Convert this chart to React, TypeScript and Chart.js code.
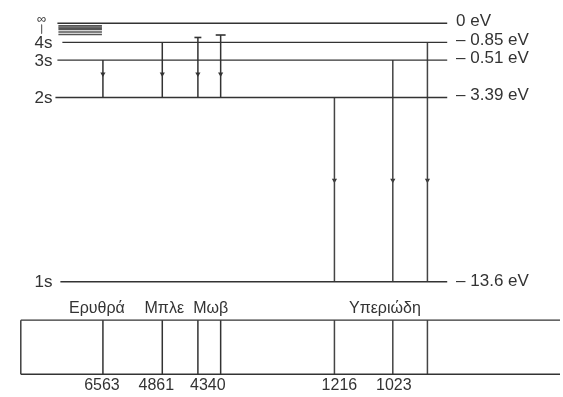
import React, { useEffect, useRef } from 'react';
import { Chart, registerables } from 'chart.js';

Chart.register(...registerables);

// ---- Energy levels (schematic depth below the ionisation limit) ----
const levelNames = ['∞', '4s', '3s', '2s', '1s'];
const levelEnergyLabels = ['0 eV', '– 0.85 eV', '– 0.51 eV', '– 3.39 eV', '– 13.6 eV'];
const levelDepth = [20.5, 40, 58, 96, 283];
const levelStart = [55, 60, 55, 53, 58];
const upperStateNames = ['5s', '6s'];
const upperStateDepth = [35, 32.5];
const denseLevelDepth = [23, 24.3, 25.6, 27, 29.5, 32];

// ---- Transitions (position along the spectrum strip) ----
const transitionFrom = ['3s', '4s', '5s', '6s', '2s', '3s', '4s'];
const transitionTo = ['2s', '2s', '2s', '2s', '1s', '1s', '1s'];
const transitionPos = [101, 161, 197, 220, 335, 394, 429];

// ---- Spectrum labels ----
const wavelengthLabels = ['6563', '4861', '4340', '1216', '1023'];
const wavelengthLabelPos = [100, 155, 207, 340, 395];
const bandNames = ['Ερυθρά', 'Μπλε', 'Μωβ', 'Υπεριώδη'];
const bandLabelPos = [95, 163, 210, 386];

const L = {
  W: 563,
  H: 397,
  levelEnd: 449,
  energyLabelX: 458,
  levelLabelX: 50,
  infX: 39,
  denseStart: 56,
  denseEnd: 100,
  balmerArrow: 72,
  lymanArrow: 180,
  boxLeft: 18,
  boxTop: 322,
  boxBottom: 377,
  boxRight: 563,
  bandLabelY: 310,
  wavelengthY: 388,
};

const INK = '#333333';
const FONT = '"Liberation Sans", Arial, Helvetica, sans-serif';

function depthOf(name: string): number {
  const i = levelNames.indexOf(name);
  if (i >= 0) return levelDepth[i];
  const j = upperStateNames.indexOf(name);
  return upperStateDepth[j];
}

function seg(x1: number, y1: number, x2: number, y2: number, color = INK, width = 1.4) {
  return {
    data: [
      { x: x1, y: y1 },
      { x: x2, y: y2 },
    ],
    showLine: true,
    borderColor: color,
    borderWidth: width,
    pointRadius: 0,
    pointHoverRadius: 0,
    clip: false as any,
    fill: false,
  };
}

function buildDatasets() {
  const ds: any[] = [];
  levelNames.forEach((_, i) => {
    ds.push(seg(levelStart[i], levelDepth[i], L.levelEnd, levelDepth[i], INK, 1.4));
  });
  denseLevelDepth.forEach((d) => {
    ds.push(seg(L.denseStart, d, L.denseEnd, d, '#555555', 1.4));
  });
  ds.push(seg(L.infX, 22, L.infX, 31, '#666666', 1));
  transitionFrom.forEach((from, i) => {
    const x = transitionPos[i];
    const y1 = depthOf(from);
    const y2 = depthOf(transitionTo[i]);
    const lyman = transitionTo[i] === '1s';
    ds.push(seg(x, y1, x, y2, lyman ? '#444444' : INK, 1.5));
    if (upperStateNames.includes(from)) {
      const half = from === '6s' ? 5 : 3.5;
      ds.push(seg(x - half, y1, x + half, y1, INK, 1.6));
    }
  });
  ds.push({
    data: transitionFrom.map((_, i) => ({
      x: transitionPos[i],
      y: transitionTo[i] === '1s' ? L.lymanArrow : L.balmerArrow,
    })),
    showLine: false,
    pointStyle: 'triangle',
    rotation: 180,
    pointRadius: 3,
    pointHoverRadius: 3,
    backgroundColor: INK,
    borderColor: INK,
    borderWidth: 0,
    clip: false,
  });
  ds.push(seg(L.boxLeft, L.boxTop, L.boxRight, L.boxTop, INK, 1.4));
  ds.push(seg(L.boxLeft, L.boxBottom, L.boxRight, L.boxBottom, INK, 1.4));
  ds.push(seg(L.boxLeft, L.boxTop, L.boxLeft, L.boxBottom, INK, 1.4));
  transitionPos.forEach((x, i) => {
    const lyman = transitionTo[i] === '1s';
    ds.push(seg(x, L.boxTop, x, L.boxBottom, lyman ? '#444444' : INK, 1.5));
  });
  return ds;
}

const textPlugin = {
  id: 'diagramText',
  afterDatasetsDraw(chart: any) {
    const { ctx, scales } = chart;
    const px = (v: number) => scales.x.getPixelForValue(v);
    const py = (v: number) => scales.y.getPixelForValue(v);
    ctx.save();
    ctx.fillStyle = INK;
    ctx.textBaseline = 'middle';
    ctx.font = `17px ${FONT}`;
    ctx.textAlign = 'right';
    levelNames.forEach((n, i) => {
      if (n === '∞') return;
      ctx.fillText(n, px(L.levelLabelX), py(levelDepth[i] + 1));
    });
    ctx.textAlign = 'center';
    ctx.font = `13px ${FONT}`;
    ctx.fillText('∞', px(L.infX), py(16.5));
    ctx.font = `17px ${FONT}`;
    ctx.textAlign = 'left';
    levelEnergyLabels.forEach((t, i) => {
      const off = i === levelEnergyLabels.length - 1 ? 0 : -2;
      ctx.fillText(t, px(L.energyLabelX), py(levelDepth[i] + off));
    });
    ctx.font = `16px ${FONT}`;
    ctx.textAlign = 'center';
    bandNames.forEach((t, i) => {
      ctx.fillText(t, px(bandLabelPos[i]), py(L.bandLabelY));
    });
    wavelengthLabels.forEach((t, i) => {
      ctx.fillText(t, px(wavelengthLabelPos[i]), py(L.wavelengthY));
    });
    ctx.restore();
  },
};

export default function App() {
  const ref = useRef<HTMLCanvasElement | null>(null);
  useEffect(() => {
    if (!ref.current) return;
    const chart = new Chart(ref.current, {
      type: 'scatter',
      data: { datasets: buildDatasets() },
      options: {
        animation: false,
        responsive: false,
        events: [],
        layout: { padding: 0 },
        plugins: { legend: { display: false }, tooltip: { enabled: false } },
        scales: {
          x: { type: 'linear', min: 0, max: L.W, display: false },
          y: { type: 'linear', min: 0, max: L.H, reverse: true, display: false },
        },
      },
      plugins: [textPlugin],
    } as any);
    return () => chart.destroy();
  }, []);
  return (
    <div style={{ position: 'fixed', left: 0, top: 0, width: L.W, height: L.H, background: '#fff' }}>
      <canvas ref={ref} width={L.W} height={L.H} style={{ display: 'block' }} />
    </div>
  );
}
